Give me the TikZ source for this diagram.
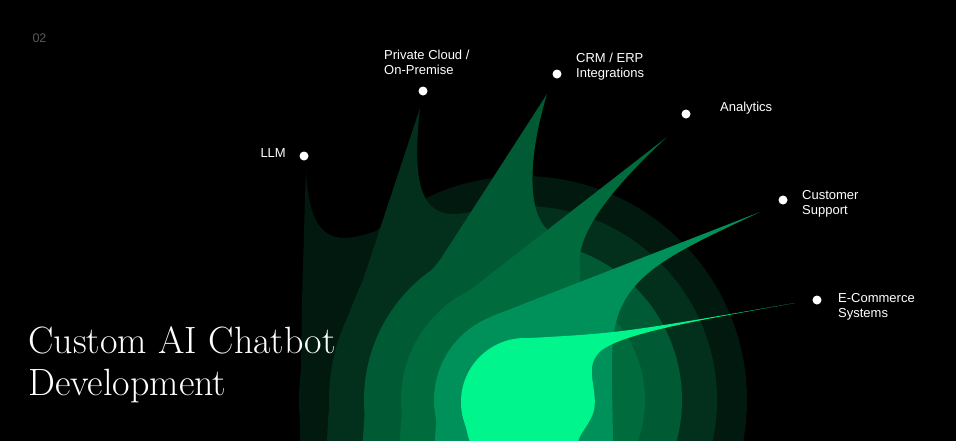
\documentclass[tikz,border=0pt]{standalone}
\usepackage{fontspec}
\newfontfamily\labelfont{Liberation Sans}
\usetikzlibrary{positioning}
\definecolor{flameA}{HTML}{01190F}
\definecolor{flameB}{HTML}{03301D}
\definecolor{flameC}{HTML}{005A33}
\definecolor{flameD}{HTML}{006B3C}
\definecolor{flameE}{HTML}{00915A}
\definecolor{flameF}{HTML}{00F58C}
\tikzset{
  dot/.style={circle,fill=white,inner sep=0pt,minimum size=9pt},
  tag/.style={text=white,font=\labelfont\fontsize{13}{15}\selectfont,align=left,inner sep=0pt}
}
\begin{document}
\begin{tikzpicture}[x=1pt,y=-1pt]

      % background
      \useasboundingbox (0,0) rectangle (956,440);
      \fill[black] (-2,-2) rectangle (958,442);
      \clip (-2,-2) rectangle (958,442);
      \coordinate (core) at (523,400);

      % draw the flames, outer to inner
      \fill[flameA] (core) circle [radius=224];
      \fill[flameA] (300,442) -- (302,300) .. controls (304,230) and (305,200) .. (306,168)
        .. controls (308,215) and (318,238) .. (345,238) .. controls (365,237) and (385,228) .. (410,215) -- (450,442) -- cycle;
      \fill[flameB] (core) circle [radius=194];
      \fill[flameB] (327,442) .. controls (330,350) and (350,310) .. (363,280) -- (420,108)
        .. controls (412,180) and (420,215) .. (455,214) .. controls (475,213) and (495,205) .. (505,198) -- (500,442) -- cycle;
      \fill[flameC] (core) circle [radius=159];
      \fill[flameC] (363,442) .. controls (365,360) and (390,320) .. (440,260) -- (547,94)
        .. controls (530,150) and (525,210) .. (548,230) -- (560,442) -- cycle;
      \fill[flameD] (core) circle [radius=122];
      \fill[flameD] (400,442) .. controls (402,360) and (430,320) .. (470,290) -- (667,137)
        .. controls (610,190) and (575,235) .. (580,268) -- (580,442) -- cycle;
      \fill[flameE] (core) circle [radius=89];
      \fill[flameE] (435,442) .. controls (437,370) and (460,330) .. (495,315) -- (760,212)
        .. controls (690,245) and (645,265) .. (625,300) .. controls (608,330) and (612,360) .. (613,442) -- cycle;
      \fill[flameF] (525,402) circle [radius=64];
      \fill[flameF] (470,442) .. controls (455,400) and (470,345) .. (530,338)
        .. controls (620,333) .. (795,303) .. controls (700,320) and (610,335) .. (597,355)
        .. controls (585,370) and (598,390) .. (594,410) .. controls (590,425) and (580,432) .. (578,442) -- cycle;

      % draw the dots and their labels
      \foreach \name/\x/\y in {llm/304/156,cloud/423/91,crm/557/74,analytics/686/114,support/783/200,shop/817/300}
        \node[dot] (\name) at (\x,\y) {};
      \node[tag,anchor=east] (llmtext) at (286,153) {LLM};
      \node[tag,anchor=south west] (cloudtext) at (384,75) {Private Cloud /\\On-Premise};
      \node[tag,anchor=west] (crmtext) at (576,67) {CRM / ERP\\Integrations};
      \node[tag,anchor=west] (analyticstext) at (720,108) {Analytics};
      \node[tag,anchor=west] (supporttext) at (802,204) {Customer\\Support};
      \node[tag,anchor=west] (shoptext) at (838,307) {E-Commerce\\Systems};

      % page number and title
      \node[anchor=west,text=white!35!black,font=\labelfont\fontsize{12.5}{14}\selectfont] (page) at (29,38) {02};
      \node[anchor=south west,text=white,font=\fontsize{38}{42}\selectfont,align=left,inner sep=0pt] (title) at (28,403) {Custom AI Chatbot\\Development};

    \end{tikzpicture}
\end{document}
